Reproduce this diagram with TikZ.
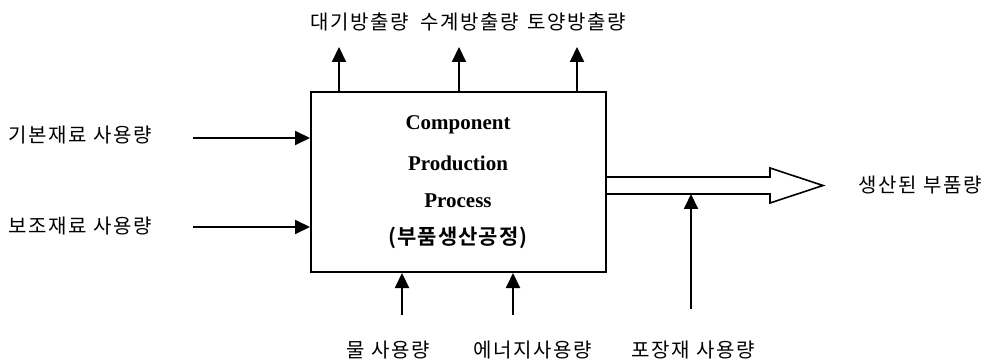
\documentclass[tikz,border=0pt]{standalone}
\usepackage{fontspec}
\setmainfont{Liberation Serif}
\newfontfamily\kr[LetterSpace=8]{Noto Sans CJK KR}
\newfontfamily\krb[LetterSpace=5]{Noto Sans CJK KR Bold}
\usetikzlibrary{arrows.meta}
\begin{document}
\begin{tikzpicture}[x=1pt,y=-1pt,
  lbl/.style={inner sep=0pt,font=\kr\fontsize{20}{22}\selectfont},
  eng/.style={inner sep=0pt,font=\bfseries\fontsize{21}{24}\selectfont},
  flow/.style={line width=2pt,-{Triangle[length=15pt,width=14pt]}},
  procbox/.style={draw,line width=2pt,minimum width=295pt,minimum height=180pt,inner sep=0pt}]
\useasboundingbox (0,0) rectangle (995,363);
% box
\node[procbox] (box) at (458.5,182) {};
\node[eng] (t1) at (458,125) {Component};
\node[eng] (t2) at (458,163) {Production};
\node[eng] (t3) at (458,201) {Process};
\node[inner sep=0pt,font=\krb\fontsize{21}{24}\selectfont] (t4) at (458,238) {(부품생산공정)};
% top outputs
\coordinate (o1) at (339,47);
\coordinate (o2) at (459,47);
\coordinate (o3) at (577,47);
\draw[flow] (box.north -| o1) -- (o1);
\draw[flow] (box.north -| o2) -- (o2);
\draw[flow] (box.north -| o3) -- (o3);
\node[lbl] (l1) at (360,22) {대기방출량};
\node[lbl] (l2) at (470,22) {수계방출량};
\node[lbl] (l3) at (577,22) {토양방출량};
% left inputs
\node[lbl] (i1) at (80,135) {기본재료 사용량};
\node[lbl] (i2) at (80,226) {보조재료 사용량};
\coordinate (s1) at (193,138);
\coordinate (s2) at (193,227);
\draw[flow] (s1) -- (s1 -| box.west);
\draw[flow] (s2) -- (s2 -| box.west);
% bottom inputs
\coordinate (b1) at (402,315);
\coordinate (b2) at (513,315);
\draw[flow] (b1) -- (b1 |- box.south);
\draw[flow] (b2) -- (b2 |- box.south);
\node[lbl] (n1) at (388,350) {물 사용량};
\node[lbl] (n2) at (533,350) {에너지사용량};
\node[lbl] (n3) at (693,350) {포장재 사용량};
% output hollow arrow
\draw[line width=1.6pt,fill=white,line join=miter]
  (box.east |- 0,177) -- (770,177) -- (770,168) -- (823,185.5) -- (770,203) -- (770,194) -- (box.east |- 0,194);
\coordinate (p1) at (691,309);
\draw[flow] (p1) -- (691,194);
\node[lbl] (out) at (920,185) {생산된 부품량};
\end{tikzpicture}
\end{document}
